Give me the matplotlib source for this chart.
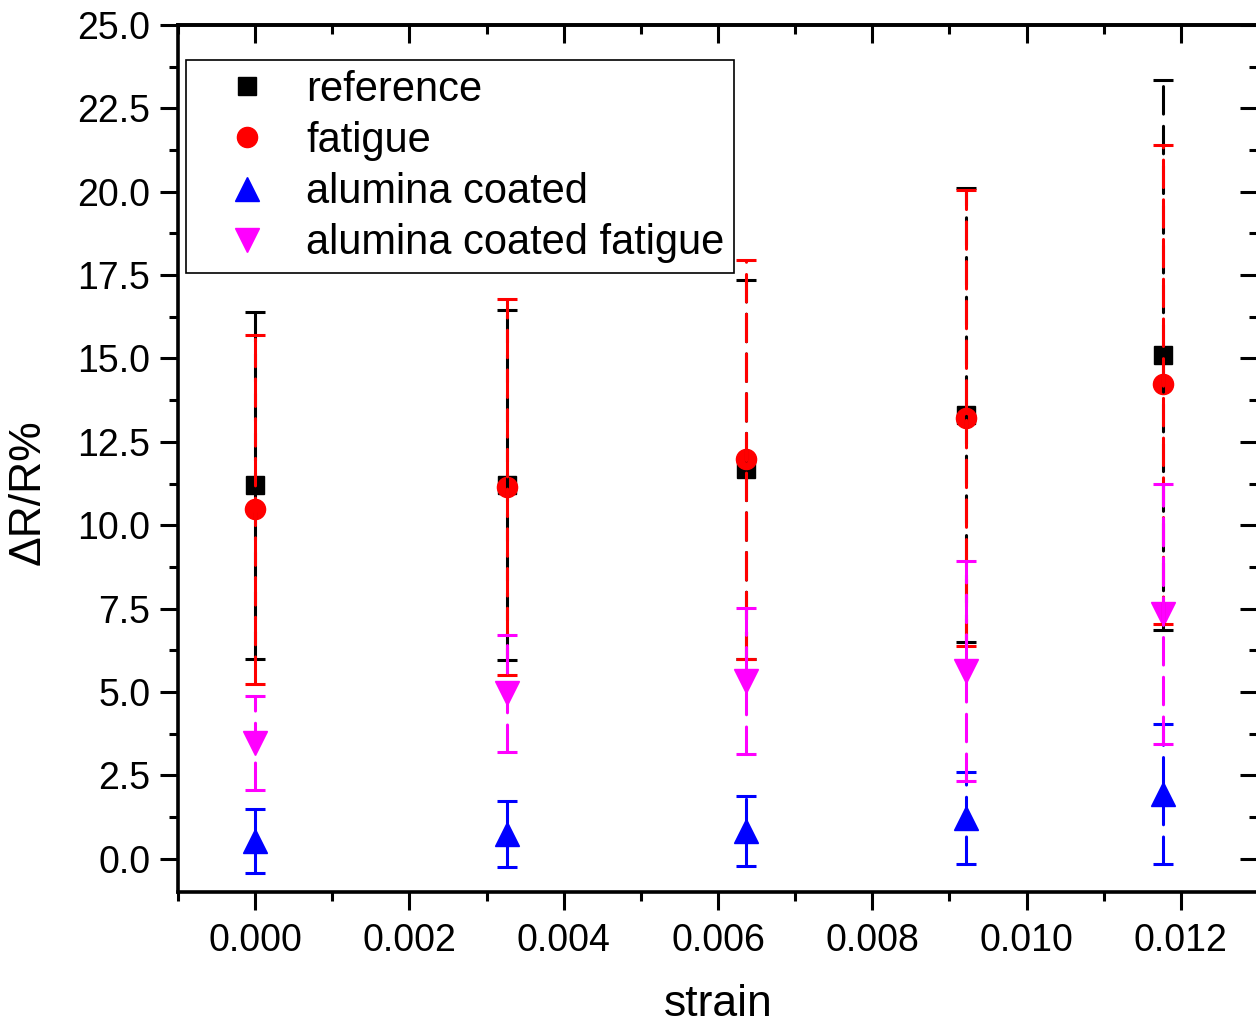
import numpy as np
import matplotlib.pyplot as plt
from matplotlib.ticker import MultipleLocator, FormatStrFormatter

plt.rcParams['font.family'] = ['Liberation Sans', 'DejaVu Sans']

# Datos
strain = [0.0, 0.00326, 0.00636, 0.00921, 0.011765]

ref_y = [11.2, 11.2, 11.68, 13.3, 15.11]
ref_err = [5.2, 5.25, 5.68, 6.8, 8.24]
fat_y = [10.48, 11.15, 11.98, 13.21, 14.22]
fat_err = [5.23, 5.63, 5.98, 6.83, 7.18]
alu_y = [0.54, 0.74, 0.84, 1.23, 1.95]
alu_err = [0.96, 0.98, 1.05, 1.38, 2.1]
alf_y = [3.48, 4.96, 5.33, 5.64, 7.35]
alf_err = [1.41, 1.76, 2.2, 3.3, 3.9]

labels = ['reference', 'fatigue', 'alumina coated', 'alumina coated fatigue']
series = [(ref_y, ref_err), (fat_y, fat_err), (alu_y, alu_err), (alf_y, alf_err)]
colors = ['#000000', '#ff0000', '#0000ff', '#ff00ff']
markers = ['s', 'o', '^', 'v']
msizes = [13, 14.5, 17, 17]

fig = plt.figure(figsize=(12.56, 10.24), dpi=100)
ax = fig.add_axes([178/1256, 132/1024, 1080/1256, 867/1024])

for (y, e), lab, c, m, ms in zip(series, labels, colors, markers, msizes):
    ax.plot(strain, y, linestyle='none', marker=m, ms=ms, color=c,
            label=lab, zorder=3)
    eb = ax.errorbar(strain, y, yerr=e, fmt='none', ecolor=c, elinewidth=2.2,
                     capsize=7.2, capthick=2.2, zorder=4)
    for lc in eb[2]:
        lc.set_linestyle((0, (9, 4)))
        lc.set_capstyle('round')

ax.set_xlim(-0.001, 0.013)
ax.set_ylim(-1.0, 25.0)

ax.xaxis.set_major_locator(MultipleLocator(0.002))
ax.xaxis.set_minor_locator(MultipleLocator(0.001))
ax.xaxis.set_major_formatter(FormatStrFormatter('%.3f'))
ax.yaxis.set_major_locator(MultipleLocator(2.5))
ax.yaxis.set_minor_locator(MultipleLocator(1.25))
ax.yaxis.set_major_formatter(FormatStrFormatter('%.1f'))

ax.tick_params(which='both', direction='out', width=2.2, labelsize=27)
ax.tick_params(axis='x', pad=9)
ax.tick_params(axis='y', pad=7)
ax.tick_params(which='major', length=13)
ax.tick_params(which='minor', length=6.5)
for s in ax.spines.values():
    s.set_linewidth(2.6)

# ticks de arriba y de la derecha hacia dentro
secx = ax.secondary_xaxis('top')
secx.xaxis.set_major_locator(MultipleLocator(0.002))
secx.xaxis.set_minor_locator(MultipleLocator(0.001))
secx.tick_params(which='both', direction='in', width=2.2, labeltop=False)
secx.tick_params(which='major', length=13)
secx.tick_params(which='minor', length=6.5)
secx.spines['top'].set_linewidth(2.6)

secy = ax.secondary_yaxis('right')
secy.yaxis.set_major_locator(MultipleLocator(2.5))
secy.yaxis.set_minor_locator(MultipleLocator(1.25))
secy.tick_params(which='both', direction='in', width=2.2, labelright=False)
secy.tick_params(which='major', length=13)
secy.tick_params(which='minor', length=6.5)
secy.spines['right'].set_linewidth(2.6)

ax.set_xlabel('strain', fontsize=32)
ax.set_ylabel('ΔR/R%', fontsize=32)
ax.xaxis.set_label_coords(0.5, -0.106)
ax.yaxis.set_label_coords(-0.12, 0.461)

leg = ax.legend(loc='upper left', bbox_to_anchor=(0.0074, 0.9596),
                borderaxespad=0, fontsize=30, numpoints=1, fancybox=False,
                framealpha=1, edgecolor='black', borderpad=0.23,
                handlelength=2.45, handletextpad=0.2, labelspacing=0.27)
leg.get_frame().set_linewidth(1.2)

fig.savefig('out.png', dpi=100)
